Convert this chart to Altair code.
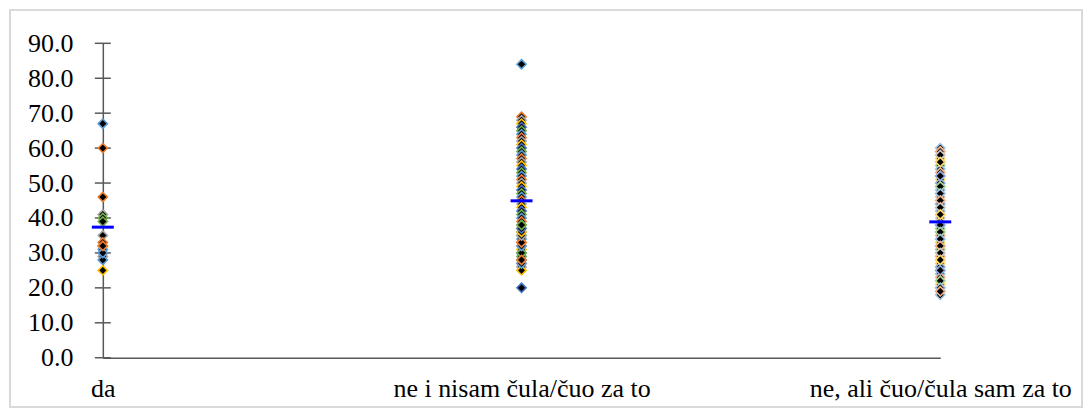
import altair as alt
import pandas as pd

cats = ["da", "ne i nisam čula/čuo za to", "ne, ali čuo/čula sam za to"]

vals_da = [67, 60, 46, 41, 40, 39, 35, 33, 32, 31, 30, 29, 28, 25, 30, 32]
cols_da = [0, 1, 1, 2, 5, 5, 2, 1, 1, 0, 4, 2, 0, 3, 0, 1]

vals_mid = [84, 69, 68, 67, 66, 65, 64, 63, 62, 61, 60, 59, 58, 57, 56, 55,
            54, 53, 52, 51, 50, 49, 48, 47, 46, 45, 44, 43, 42, 41, 40, 39,
            38, 37, 36, 35, 34, 33, 32, 31, 30, 29, 28, 27, 26, 25, 20,
            30, 32, 33, 35, 36, 37, 38, 27, 28]

vals_3 = list(range(60, 17, -1)) + [59, 58, 56, 52, 49, 47, 45, 43, 41, 38,
                                    36, 34, 32, 30, 28, 25, 22, 20, 19]

palette = ["#5B9BD5", "#ED7D31", "#A5A5A5", "#FFC000", "#4472C4", "#70AD47"]
palette_light = ["#9DC3E6", "#F4B183", "#C9C9C9", "#FFD966", "#8FAADC", "#A9D18E"]

rows = []
for v, c in zip(vals_da, cols_da):
    rows.append({"cat": cats[0], "val": v, "col": palette[c]})
for i, v in enumerate(vals_mid):
    rows.append({"cat": cats[1], "val": v, "col": palette[i % 6]})
for i, v in enumerate(vals_3):
    rows.append({"cat": cats[2], "val": v, "col": palette_light[i % 6]})
df = pd.DataFrame(rows)

ytick_values = list(range(0, 100, 10))
yticks = pd.DataFrame({"t": ytick_values})

FONT = "Liberation Serif"
xscale = alt.Scale(type="point", padding=0, domain=cats)
yscale = alt.Scale(domain=[0, 90], nice=False)

xaxis = alt.Axis(labelAngle=0, ticks=True, tickSize=18, tickOpacity=0,
                 labelPadding=0, labelLimit=600, labelOverlap=False,
                 labelFontSize=26, labelFont=FONT, labelColor="black",
                 domainColor="#595959", domainWidth=1.5, title=None)
yaxis = alt.Axis(values=ytick_values, format=".1f",
                 ticks=True, tickSize=30, tickOpacity=0,
                 labelPadding=0, labelOverlap=False, labelFontSize=26,
                 labelFont=FONT, labelColor="black",
                 domainColor="#595959", domainWidth=1.5, grid=False, title=None)

base = alt.Chart(df)

points = base.mark_point(shape="diamond", filled=True, size=85, fill="black",
                         strokeWidth=1.6, opacity=1).encode(
    x=alt.X("cat:N", scale=xscale, sort=cats, axis=xaxis),
    y=alt.Y("val:Q", scale=yscale, axis=yaxis),
    stroke=alt.Stroke("col:N", scale=None),
)

means = base.mark_tick(color="#0000FF", size=22, thickness=3, opacity=1).encode(
    x=alt.X("cat:N", scale=xscale, sort=cats, axis=xaxis),
    y=alt.Y("mean(val):Q", scale=yscale, axis=yaxis),
)

crossticks = alt.Chart(yticks).mark_rule(color="#595959", strokeWidth=1.5).encode(
    x=alt.value(-8), x2=alt.value(8),
    y=alt.Y("t:Q", scale=yscale, axis=yaxis),
)

frame = alt.Chart(yticks).mark_rect(fill=None, stroke="#D9D9D9", strokeWidth=1.5).encode(
    x=alt.value(-93), x2=alt.value(981), y=alt.value(-33), y2=alt.value(364),
)

chart = alt.layer(frame, crossticks, points, means).properties(
    width=839, height=315,
    padding={"left": 1, "top": 1, "right": 0, "bottom": 0},
    background="white",
).configure_view(stroke=None).configure_axis(labelOverlap=False, labelFont=FONT)

chart.save("out.html", embed_options={"renderer": "svg", "actions": False})
